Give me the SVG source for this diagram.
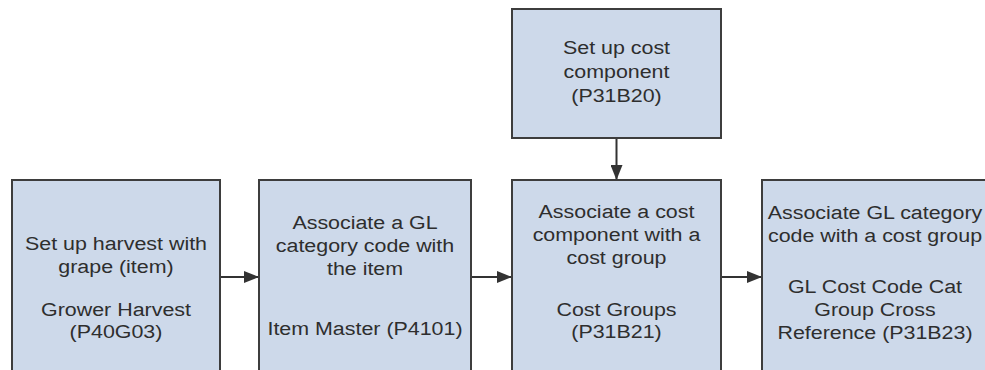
<svg xmlns="http://www.w3.org/2000/svg" width="985" height="370" viewBox="0 0 985 370">
<defs>
<style>
.box{fill:#cdd9ea;stroke:#3d3d3d;stroke-width:2}
.lbl{font-family:"Liberation Sans",Arial,sans-serif;font-size:18px;fill:#2e2e2e;text-anchor:middle}
.con{stroke:#333;stroke-width:2;fill:none;marker-end:url(#ah)}
</style>
<marker id="ah" viewBox="0 0 15 12" refX="15" refY="6" markerWidth="15" markerHeight="12" markerUnits="userSpaceOnUse" orient="auto">
<path d="M0,0 L15,6 L0,12 Z" fill="#333"/>
</marker>
</defs>
<rect width="985" height="370" fill="#fff"/>
<g id="connectors">
<line class="con" x1="220" y1="277" x2="259" y2="277"/>
<line class="con" x1="471" y1="277" x2="512" y2="277"/>
<line class="con" x1="721" y1="277" x2="762" y2="277"/>
<line class="con" x1="616.5" y1="138" x2="616.5" y2="180"/>
</g>
<g id="n1">
<rect class="box" x="12" y="180" width="208" height="200"/>
<text class="lbl" transform="translate(116 0) scale(1.19 1)"><tspan x="0" y="250">Set up harvest with</tspan><tspan x="0" y="273">grape (item)</tspan><tspan x="0" y="316">Grower Harvest</tspan><tspan x="0" y="338">(P40G03)</tspan></text>
</g>
<g id="n2">
<rect class="box" x="259" y="180" width="212" height="200"/>
<text class="lbl" transform="translate(365 0) scale(1.19 1)"><tspan x="0" y="229">Associate a GL</tspan><tspan x="0" y="252">category code with</tspan><tspan x="0" y="275">the item</tspan><tspan x="0" y="335">Item Master (P4101)</tspan></text>
</g>
<g id="n3">
<rect class="box" x="512" y="9" width="209" height="129"/>
<text class="lbl" transform="translate(616.5 0) scale(1.19 1)"><tspan x="0" y="54">Set up cost</tspan><tspan x="0" y="78">component</tspan><tspan x="0" y="102">(P31B20)</tspan></text>
</g>
<g id="n4">
<rect class="box" x="512" y="180" width="209" height="200"/>
<text class="lbl" transform="translate(616.5 0) scale(1.19 1)"><tspan x="0" y="218">Associate a cost</tspan><tspan x="0" y="241">component with a</tspan><tspan x="0" y="264">cost group</tspan><tspan x="0" y="316">Cost Groups</tspan><tspan x="0" y="338">(P31B21)</tspan></text>
</g>
<g id="n5">
<rect class="box" x="762" y="180" width="240" height="200"/>
<text class="lbl" transform="translate(875 0) scale(1.19 1)"><tspan x="0" y="219">Associate GL category</tspan><tspan x="0" y="242">code with a cost group</tspan><tspan x="0" y="293">GL Cost Code Cat</tspan><tspan x="0" y="316">Group Cross</tspan><tspan x="0" y="339">Reference (P31B23)</tspan></text>
</g>
</svg>
